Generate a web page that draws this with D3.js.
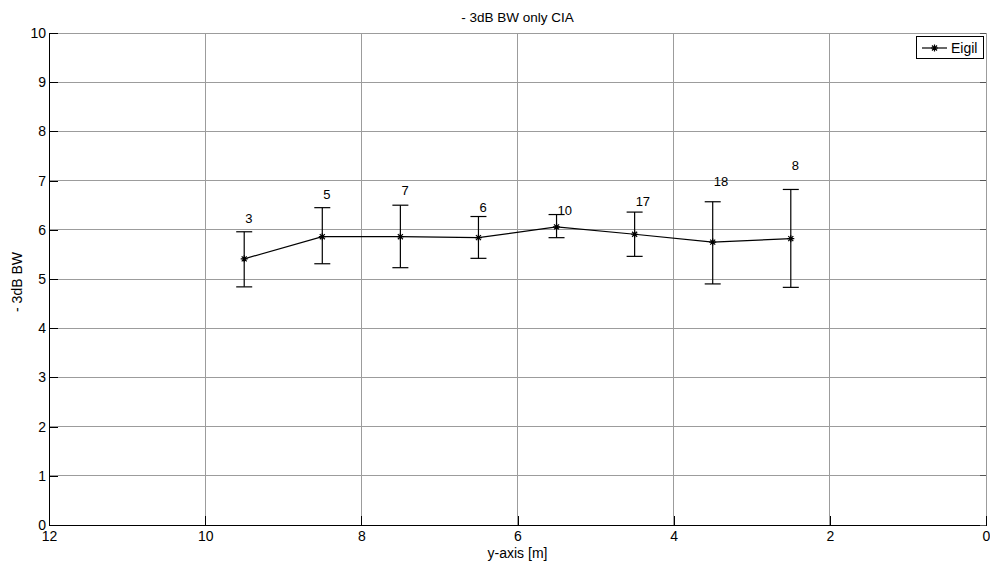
<!DOCTYPE html>
<html>
<head>
<meta charset="utf-8">
<script src="https://cdn.jsdelivr.net/npm/d3@7/dist/d3.min.js"></script>
<style>
  html, body { margin: 0; padding: 0; background: #fff; }
  svg { display: block; font-family: "Liberation Sans", Arial, Helvetica, sans-serif; }
</style>
</head>
<body>
<svg id="chart" width="990" height="567"></svg>
<script>
// Position along the y-axis [m]
const positions = [9.5, 8.5, 7.5, 6.5, 5.5, 4.5, 3.5, 2.5];
// Mean -3dB bandwidth at each position
const meanBW = [5.41, 5.86, 5.86, 5.84, 6.06, 5.91, 5.75, 5.82];
// Error bar extents (lower / upper)
const lowerBW = [4.84, 5.31, 5.23, 5.42, 5.84, 5.46, 4.90, 4.83];
const upperBW = [5.96, 6.45, 6.50, 6.27, 6.31, 6.36, 6.57, 6.82];
// Sample counts and the height (in BW units) where each count is written
const counts = ["3", "5", "7", "6", "10", "17", "18", "8"];
const countY = [6.23, 6.72, 6.79, 6.45, 6.40, 6.58, 6.98, 7.30];
// Axis ticks
const xTicks = [12, 10, 8, 6, 4, 2, 0];
const yTicks = [0, 1, 2, 3, 4, 5, 6, 7, 8, 9, 10];

const svg = d3.select("#chart");
const m = { left: 49, right: 986, top: 33, bottom: 525 };

const x = d3.scaleLinear().domain([12, 0]).range([m.left, m.right]);
const y = d3.scaleLinear().domain([0, 10]).range([m.bottom, m.top]);

const gridColor = "#9c9c9c";
const fontSize = 13;
const tickFont = 14;

// grid lines
svg.append("g").selectAll("line").data(xTicks.filter(d => d !== 12)).join("line")
  .attr("x1", d => x(d)).attr("x2", d => x(d))
  .attr("y1", m.top).attr("y2", m.bottom)
  .attr("stroke", gridColor).attr("stroke-width", 1).attr("shape-rendering", "crispEdges");
svg.append("g").selectAll("line").data(yTicks.filter(d => d !== 0)).join("line")
  .attr("x1", m.left).attr("x2", m.right)
  .attr("y1", d => y(d)).attr("y2", d => y(d))
  .attr("stroke", gridColor).attr("stroke-width", 1).attr("shape-rendering", "crispEdges");

// axes: inward ticks, no outer ticks
const xAxis = d3.axisBottom(x).tickValues(xTicks).tickSize(-9).tickSizeOuter(0).tickPadding(14);
const yAxis = d3.axisLeft(y).tickValues(yTicks).tickSize(-9).tickSizeOuter(0).tickPadding(13);

const gx = svg.append("g").attr("transform", `translate(0,${m.bottom})`).call(xAxis);
const gy = svg.append("g").attr("transform", `translate(${m.left},0)`).call(yAxis);
[gx, gy].forEach(g => {
  g.selectAll("text").attr("font-size", tickFont).attr("fill", "#000")
    .attr("font-family", "Liberation Sans, Arial, sans-serif");
  g.selectAll("line").attr("stroke", "#000").attr("shape-rendering", "crispEdges");
  g.select(".domain").attr("stroke", "#000").attr("stroke-width", 1.3).attr("shape-rendering", "crispEdges");
});
gx.selectAll(".tick text").attr("dy", "0.32em").attr("y", 12);
gy.selectAll(".tick text").attr("x", -3);

// right-side short ticks
svg.append("g").selectAll("line").data(yTicks).join("line")
  .attr("x1", m.right - 6).attr("x2", m.right)
  .attr("y1", d => y(d)).attr("y2", d => y(d))
  .attr("stroke", "#555").attr("shape-rendering", "crispEdges");

// title and axis labels
svg.append("text").attr("x", (m.left + m.right) / 2).attr("y", 22)
  .attr("text-anchor", "middle").attr("font-size", fontSize + 0.5).text("- 3dB BW only CIA");
svg.append("text").attr("x", (m.left + m.right) / 2).attr("y", 558)
  .attr("text-anchor", "middle").attr("font-size", fontSize + 1).text("y-axis [m]");
svg.append("text")
  .attr("transform", `translate(22,${(m.top + m.bottom) / 2 + 3}) rotate(-90)`)
  .attr("text-anchor", "middle").attr("font-size", fontSize + 1).text("- 3dB BW");

const pts = positions.map((p, i) => ({
  x: p, m: meanBW[i], lo: lowerBW[i], hi: upperBW[i], n: counts[i], ny: countY[i]
}));

// error bars
const eb = svg.append("g").attr("stroke", "#000").attr("stroke-width", 1.2);
pts.forEach(d => {
  const cx = x(d.x);
  eb.append("line").attr("x1", cx).attr("x2", cx).attr("y1", y(d.lo)).attr("y2", y(d.hi));
  eb.append("line").attr("x1", cx - 8).attr("x2", cx + 8).attr("y1", y(d.lo)).attr("y2", y(d.lo));
  eb.append("line").attr("x1", cx - 8).attr("x2", cx + 8).attr("y1", y(d.hi)).attr("y2", y(d.hi));
});

// mean line
svg.append("path").datum(pts)
  .attr("d", d3.line().x(d => x(d.x)).y(d => y(d.m)))
  .attr("fill", "none").attr("stroke", "#000").attr("stroke-width", 1.2);

// asterisk markers
function asterisk(g, cx, cy, r) {
  const a = r * 0.72;
  g.append("path")
    .attr("d", `M${cx - r},${cy}H${cx + r}M${cx},${cy - r}V${cy + r}` +
               `M${cx - a},${cy - a}L${cx + a},${cy + a}M${cx - a},${cy + a}L${cx + a},${cy - a}`)
    .attr("stroke", "#000").attr("stroke-width", 1.2).attr("fill", "none");
}
const mk = svg.append("g");
pts.forEach(d => asterisk(mk, x(d.x), y(d.m), 3.5));

// sample counts
svg.append("g").selectAll("text").data(pts).join("text")
  .attr("x", d => x(d.x) + 1).attr("y", d => y(d.ny)).attr("dy", "0.35em")
  .attr("font-size", fontSize).text(d => d.n);

// legend
const lg = svg.append("g");
lg.append("rect").attr("x", 916.5).attr("y", 36.5).attr("width", 67).attr("height", 22)
  .attr("fill", "#fff").attr("stroke", "#000").attr("stroke-width", 1);
lg.append("line").attr("x1", 922).attr("x2", 947).attr("y1", 48).attr("y2", 48)
  .attr("stroke", "#000").attr("stroke-width", 1.2);
asterisk(lg, 934.5, 48, 3.5);
lg.append("text").attr("x", 951).attr("y", 48).attr("dy", "0.35em")
  .attr("font-size", fontSize + 1).text("Eigil");
</script>
</body>
</html>
